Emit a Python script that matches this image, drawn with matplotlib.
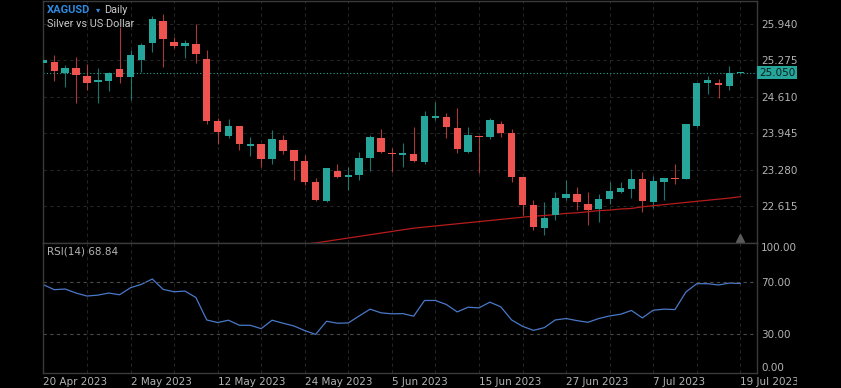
import matplotlib
matplotlib.use('Agg')
import matplotlib.pyplot as plt
import matplotlib.transforms as mtransforms
from matplotlib.patches import Rectangle

# ---------------- data ----------------
opens = [25.22, 25.24, 25.045, 25.13, 24.99, 24.88, 24.90, 25.12, 24.97, 25.28,
         25.59, 25.99, 25.62, 25.54, 25.57, 25.30, 24.17, 23.90, 24.08, 23.72,
         23.74, 23.48, 23.82, 23.63, 23.44, 23.05, 22.71, 23.26, 23.15, 23.19,
         23.49, 23.85, 23.57, 23.54, 23.56, 23.41, 24.23, 24.24, 24.04, 23.61,
         23.89, 23.88, 24.11, 23.95, 23.14, 22.64, 22.22, 22.45, 22.76, 22.83,
         22.66, 22.56, 22.74, 22.87, 22.92, 23.10, 22.68, 23.06, 23.12, 23.11,
         24.08, 24.86, 24.86, 24.80, 25.05]
highs = [25.35, 25.37, 25.19, 25.34, 25.21, 25.13, 25.07, 25.88, 25.47, 25.60,
         26.09, 26.12, 25.71, 25.65, 25.94, 25.46, 24.22, 24.20, 24.08, 23.88,
         23.74, 24.00, 23.92, 23.63, 23.55, 23.13, 23.31, 23.38, 23.33, 23.60,
         23.91, 24.03, 23.67, 23.76, 24.05, 24.35, 24.52, 24.31, 24.41, 24.06,
         23.89, 24.22, 24.17, 24.02, 23.14, 22.72, 22.68, 22.87, 23.09, 22.97,
         22.87, 22.83, 23.06, 23.06, 23.30, 23.24, 23.17, 23.13, 23.39, 24.11,
         24.86, 24.99, 24.93, 25.17, 25.06]
lows = [25.10, 24.89, 24.78, 24.49, 24.73, 24.50, 24.72, 24.87, 24.56, 25.07,
        25.43, 25.16, 25.50, 25.31, 25.22, 24.12, 23.75, 23.85, 23.63, 23.52,
        23.33, 23.38, 23.56, 23.09, 23.00, 22.70, 22.68, 23.13, 22.91, 23.09,
        23.26, 23.58, 23.24, 23.33, 23.41, 23.39, 24.19, 23.85, 23.58, 23.59,
        23.21, 23.83, 23.87, 23.06, 22.45, 22.17, 22.09, 22.36, 22.72, 22.54,
        22.27, 22.33, 22.66, 22.85, 22.76, 22.51, 22.57, 22.73, 23.02, 23.11,
        24.06, 24.66, 24.59, 24.73, 25.04]
closes = [25.29, 25.075, 25.14, 25.01, 24.86, 24.92, 25.04, 24.98, 25.37, 25.55,
          26.03, 25.66, 25.54, 25.59, 25.39, 24.17, 23.97, 24.08, 23.74, 23.73,
          23.48, 23.83, 23.62, 23.43, 23.05, 22.72, 23.31, 23.15, 23.18, 23.50,
          23.87, 23.60, 23.56, 23.58, 23.43, 24.26, 24.26, 24.05, 23.66, 23.91,
          23.88, 24.18, 23.94, 23.15, 22.64, 22.24, 22.40, 22.77, 22.84, 22.68,
          22.55, 22.74, 22.89, 22.94, 23.11, 22.70, 23.08, 23.12, 23.10, 24.11,
          24.86, 24.92, 24.82, 25.05, 25.05]

ma_start = 24
ma_values = [21.92, 21.94, 21.97, 22.00, 22.03, 22.06, 22.09, 22.12, 22.15, 22.18,
             22.21, 22.23, 22.25, 22.27, 22.29, 22.31, 22.33, 22.35, 22.37, 22.39,
             22.41, 22.43, 22.44, 22.46, 22.48, 22.49, 22.51, 22.53, 22.54, 22.56,
             22.57, 22.60, 22.62, 22.64, 22.66, 22.68, 22.70, 22.72, 22.74, 22.76,
             22.785]

rsi = [67.9, 64.1, 64.6, 61.5, 59.2, 59.9, 61.5, 60.2, 65.6, 68.2,
       72.3, 64.3, 62.5, 63.0, 58.1, 40.8, 38.8, 40.6, 36.7, 36.7,
       34.1, 40.6, 38.3, 36.2, 32.6, 29.7, 39.8, 38.3, 38.5, 43.9,
       49.1, 46.3, 45.5, 45.7, 43.7, 55.8, 55.8, 52.7, 47.0, 50.6,
       50.1, 54.5, 50.9, 40.8, 35.9, 32.8, 34.9, 40.8, 41.9, 40.3,
       39.0, 41.9, 43.9, 45.2, 48.1, 42.4, 48.3, 49.1, 48.8, 62.3,
       68.7, 68.7, 67.7, 69.2, 68.84]

price_ticks = [22.615, 23.280, 23.945, 24.610, 25.275, 25.940]
rsi_ticks = [0, 30, 70, 100]
date_labels = ["20 Apr 2023", "2 May 2023", "12 May 2023", "24 May 2023", "5 Jun 2023",
               "15 Jun 2023", "27 Jun 2023", "7 Jul 2023", "19 Jul 2023"]
last_price = 25.050
symbol = "XAGUSD"
interval = "Daily"
description = "Silver vs US Dollar"

# ---------------- styling ----------------
BG = '#000000'
UP = '#26a69a'
DN = '#ef5350'
GRID = '#242424'
FRAME = '#3a3a3a'
TXT = '#b4b4b4'

W, H = 841, 388
fig = plt.figure(figsize=(W / 100, H / 100), dpi=100, facecolor=BG)

left = 43.4 / W
right = 757 / W
ax1 = fig.add_axes([left, 1 - 243 / H, right - left, (243 - 1) / H])
ax2 = fig.add_axes([left, 1 - 373 / H, right - left, (373 - 243) / H], sharex=ax1)

n = len(closes)
for ax in (ax1, ax2):
    ax.set_facecolor(BG)
    for s in ax.spines.values():
        s.set_color(FRAME)
        s.set_linewidth(1.0)
    ax.yaxis.tick_right()
    ax.tick_params(axis='both', length=0, colors=TXT, labelsize=7.5)
    ax.set_xticks(range(0, n, 4))
    ax.grid(True, axis='x', color=GRID, linestyle=(0, (3, 3)), linewidth=0.8)
    ax.set_axisbelow(True)

ax1.set_xlim(0, 65.53)
ax1.set_ylim(21.939, 26.36)

# candles
bw = 0.68
for i in range(n):
    o, h, l, c = opens[i], highs[i], lows[i], closes[i]
    col = UP if c >= o else DN
    ax1.vlines(i, l, h, color=col, linewidth=0.8, alpha=0.7, zorder=2)
    lo = min(o, c)
    hgt = max(abs(c - o), 0.02)
    ax1.add_patch(Rectangle((i - bw / 2, lo), bw, hgt, facecolor=col,
                            edgecolor='none', zorder=3))

# moving average
ax1.plot(range(ma_start, ma_start + len(ma_values)), ma_values,
         color='#b71c1c', linewidth=0.9, zorder=2.5)

# grid for price axis
ax1.set_yticks(price_ticks)
ax1.set_yticklabels([f"{v:.3f}" for v in price_ticks])
ax1.grid(True, axis='y', color=GRID, linestyle=(0, (3, 3)), linewidth=0.8)
ax1.tick_params(axis='x', labelbottom=False)
ax1.tick_params(axis='y', pad=3)

# last price line and tag
ax1.axhline(last_price, color=UP, linestyle=(0, (1, 2)), linewidth=0.8, zorder=1.5)
trans = mtransforms.blended_transform_factory(ax1.transAxes, ax1.transData)
ax1.text(1.0 + 2 / (W * (right - left)), last_price, f"{last_price:.3f}", transform=trans,
         ha='left', va='center', fontsize=7.5, color='#0b1f1d',
         bbox=dict(boxstyle='square,pad=0.15', facecolor=UP, edgecolor='none'),
         zorder=5, clip_on=False)

# small marker at bottom of price panel
ax1.plot([n - 1], [22.03], marker='^', color='#5a5a5a', markersize=6, zorder=4)

# RSI panel
ax2.set_ylim(0, 100)
ax2.plot(range(n), rsi, color='#4a78c8', linewidth=0.9)
for lvl in (30, 70):
    ax2.axhline(lvl, color='#4a4a4a', linestyle=(0, (3, 3)), linewidth=0.8)
ax2.set_yticks(rsi_ticks)
ax2.set_yticklabels([f"{v:.2f}" for v in rsi_ticks])
ylab = ax2.get_yticklabels()
ylab[0].set_va('bottom')
ylab[-1].set_va('top')
ax2.tick_params(axis='y', pad=3)

xt = list(range(0, n, 4))
ax2.set_xticks(xt)
lab = []
for k, p in enumerate(xt):
    lab.append(date_labels[k // 2] if k % 2 == 0 else "")
ax2.set_xticklabels(lab, ha='left')
ax2.tick_params(axis='x', pad=3)
# clip the last date label like the reference (cut at the label column edge)
clipbox = mtransforms.Bbox.from_extents(0, 0, 797, H)
xl = ax2.get_xticklabels()
xl[-1].set_clip_box(clipbox)
xl[-1].set_clip_on(True)

# header texts
fig.text(47 / W, 1 - 10 / H, symbol, color='#2f8ae0', fontsize=8, fontweight='bold',
         family='Roboto', ha='left', va='center')
fig.text(96 / W, 1 - 10 / H, "\u25be", color='#2f8ae0', fontsize=6, ha='left', va='center')
fig.text(104 / W, 1 - 10 / H, interval, color='#c8c8c8', fontsize=7.8, family='Roboto',
         ha='left', va='center')
fig.text(47 / W, 1 - 24 / H, description, color='#c8c8c8', fontsize=7.8, family='Roboto',
         ha='left', va='center')
fig.text(47 / W, 1 - 252 / H, f"RSI(14) {rsi[-1]:.2f}", color=TXT, fontsize=7.5,
         ha='left', va='center')

fig.savefig('out.png', dpi=100, facecolor=BG)
